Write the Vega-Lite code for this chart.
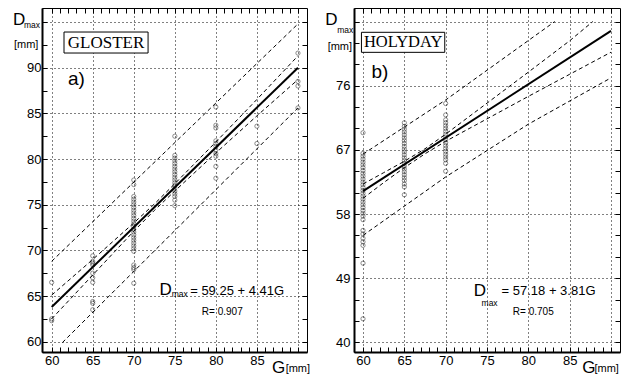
{
 "$schema": "https://vega.github.io/schema/vega-lite/v6.json",
 "autosize": {"type": "pad"},
 "padding": {"left": 12, "top": 7, "right": 0, "bottom": 0},
 "background": "white",
 "spacing": 47,
 "bounds": "flush",
 "config": {
  "view": {"stroke": "black", "strokeWidth": 1},
  "axis": {"labelFont": "Liberation Sans", "labelFontSize": 13, "labelColor": "black", "tickColor": "black", "tickSize": -5, "tickWidth": 1, "gridColor": "black", "gridDash": [1, 3], "gridWidth": 1, "labelOverlap": false, "labelFlush": false, "domainColor": "black"},
  "text": {"font": "Liberation Sans", "color": "black", "align": "left", "baseline": "alphabetic"}
 },
 "datasets": {
  "pts": [
   {"p":"a","G":60,"D":66.5},{"p":"a","G":60,"D":62.5},{"p":"a","G":60,"D":62.3},
   {"p":"a","G":65,"D":69.4},{"p":"a","G":65,"D":68.8},{"p":"a","G":65,"D":68.6},{"p":"a","G":65,"D":68.4},{"p":"a","G":65,"D":67.5},{"p":"a","G":65,"D":67.0},{"p":"a","G":65,"D":66.5},{"p":"a","G":65,"D":64.4},{"p":"a","G":65,"D":64.2},{"p":"a","G":65,"D":63.5},
   {"p":"a","G":70,"D":77.7},{"p":"a","G":70,"D":77.2},{"p":"a","G":70,"D":75.9},{"p":"a","G":70,"D":75.6},{"p":"a","G":70,"D":75.3},{"p":"a","G":70,"D":75.0},{"p":"a","G":70,"D":74.7},{"p":"a","G":70,"D":74.4},{"p":"a","G":70,"D":74.1},{"p":"a","G":70,"D":73.8},{"p":"a","G":70,"D":73.5},{"p":"a","G":70,"D":73.2},{"p":"a","G":70,"D":72.9},{"p":"a","G":70,"D":72.6},{"p":"a","G":70,"D":72.3},{"p":"a","G":70,"D":72.0},{"p":"a","G":70,"D":71.7},{"p":"a","G":70,"D":71.4},{"p":"a","G":70,"D":71.1},{"p":"a","G":70,"D":70.8},{"p":"a","G":70,"D":70.5},{"p":"a","G":70,"D":70.2},{"p":"a","G":70,"D":69.9},{"p":"a","G":70,"D":68.4},{"p":"a","G":70,"D":68.1},{"p":"a","G":70,"D":67.9},{"p":"a","G":70,"D":66.4},
   {"p":"a","G":75,"D":82.5},{"p":"a","G":75,"D":80.4},{"p":"a","G":75,"D":80.1},{"p":"a","G":75,"D":79.8},{"p":"a","G":75,"D":79.5},{"p":"a","G":75,"D":79.2},{"p":"a","G":75,"D":78.9},{"p":"a","G":75,"D":78.6},{"p":"a","G":75,"D":78.3},{"p":"a","G":75,"D":78.0},{"p":"a","G":75,"D":77.7},{"p":"a","G":75,"D":77.4},{"p":"a","G":75,"D":77.1},{"p":"a","G":75,"D":76.8},{"p":"a","G":75,"D":76.5},{"p":"a","G":75,"D":76.2},{"p":"a","G":75,"D":75.9},{"p":"a","G":75,"D":75.5},{"p":"a","G":75,"D":74.9},
   {"p":"a","G":80,"D":85.7},{"p":"a","G":80,"D":83.7},{"p":"a","G":80,"D":83.4},{"p":"a","G":80,"D":82.0},{"p":"a","G":80,"D":81.7},{"p":"a","G":80,"D":81.4},{"p":"a","G":80,"D":81.0},{"p":"a","G":80,"D":80.6},{"p":"a","G":80,"D":80.3},{"p":"a","G":80,"D":79.2},{"p":"a","G":80,"D":77.9},
   {"p":"a","G":85,"D":83.6},{"p":"a","G":85,"D":81.7},
   {"p":"a","G":90,"D":91.6},{"p":"a","G":90,"D":88.5},{"p":"a","G":90,"D":88.0},{"p":"a","G":90,"D":85.6},
   {"p":"b","G":60,"D":69.4},{"p":"b","G":60,"D":66.5},{"p":"b","G":60,"D":66.1},{"p":"b","G":60,"D":65.7},{"p":"b","G":60,"D":65.3},{"p":"b","G":60,"D":64.9},{"p":"b","G":60,"D":64.5},{"p":"b","G":60,"D":64.1},{"p":"b","G":60,"D":63.7},{"p":"b","G":60,"D":63.3},{"p":"b","G":60,"D":62.9},{"p":"b","G":60,"D":62.5},{"p":"b","G":60,"D":62.1},{"p":"b","G":60,"D":61.7},{"p":"b","G":60,"D":61.3},{"p":"b","G":60,"D":60.9},{"p":"b","G":60,"D":60.5},{"p":"b","G":60,"D":60.1},{"p":"b","G":60,"D":59.7},{"p":"b","G":60,"D":59.3},{"p":"b","G":60,"D":58.9},{"p":"b","G":60,"D":58.5},{"p":"b","G":60,"D":58.1},{"p":"b","G":60,"D":57.7},{"p":"b","G":60,"D":57.2},{"p":"b","G":60,"D":55.7},{"p":"b","G":60,"D":55.2},{"p":"b","G":60,"D":54.6},{"p":"b","G":60,"D":54.1},{"p":"b","G":60,"D":53.6},{"p":"b","G":60,"D":51.1},{"p":"b","G":60,"D":43.3},
   {"p":"b","G":65,"D":70.8},{"p":"b","G":65,"D":70.3},{"p":"b","G":65,"D":69.9},{"p":"b","G":65,"D":69.5},{"p":"b","G":65,"D":69.1},{"p":"b","G":65,"D":68.7},{"p":"b","G":65,"D":68.3},{"p":"b","G":65,"D":67.9},{"p":"b","G":65,"D":67.5},{"p":"b","G":65,"D":67.1},{"p":"b","G":65,"D":66.7},{"p":"b","G":65,"D":66.3},{"p":"b","G":65,"D":65.9},{"p":"b","G":65,"D":65.5},{"p":"b","G":65,"D":65.1},{"p":"b","G":65,"D":64.7},{"p":"b","G":65,"D":64.3},{"p":"b","G":65,"D":63.9},{"p":"b","G":65,"D":63.5},{"p":"b","G":65,"D":63.1},{"p":"b","G":65,"D":62.7},{"p":"b","G":65,"D":62.2},{"p":"b","G":65,"D":61.8},{"p":"b","G":65,"D":60.7},
   {"p":"b","G":70,"D":73.5},{"p":"b","G":70,"D":71.9},{"p":"b","G":70,"D":71.2},{"p":"b","G":70,"D":70.8},{"p":"b","G":70,"D":70.4},{"p":"b","G":70,"D":70.0},{"p":"b","G":70,"D":69.6},{"p":"b","G":70,"D":69.2},{"p":"b","G":70,"D":68.8},{"p":"b","G":70,"D":68.4},{"p":"b","G":70,"D":68.0},{"p":"b","G":70,"D":67.6},{"p":"b","G":70,"D":67.2},{"p":"b","G":70,"D":66.8},{"p":"b","G":70,"D":66.4},{"p":"b","G":70,"D":66.0},{"p":"b","G":70,"D":65.6},{"p":"b","G":70,"D":65.1},{"p":"b","G":70,"D":64.0}
  ],
  "lines": [
   {"p":"a","s":"af","k":"fit","G":60,"D":63.8},{"p":"a","s":"af","k":"fit","G":90,"D":90.0},
   {"p":"a","s":"aiu","k":"band","G":60,"D":65.1},{"p":"a","s":"aiu","k":"band","G":65,"D":69.0},{"p":"a","s":"aiu","k":"band","G":70,"D":73.0},{"p":"a","s":"aiu","k":"band","G":72.5,"D":75.07},{"p":"a","s":"aiu","k":"band","G":75,"D":77.3},{"p":"a","s":"aiu","k":"band","G":80,"D":81.87},{"p":"a","s":"aiu","k":"band","G":85,"D":86.53},{"p":"a","s":"aiu","k":"band","G":90,"D":91.3},
   {"p":"a","s":"ail","k":"band","G":60,"D":62.5},{"p":"a","s":"ail","k":"band","G":65,"D":67.3},{"p":"a","s":"ail","k":"band","G":70,"D":72.1},{"p":"a","s":"ail","k":"band","G":72.5,"D":74.37},{"p":"a","s":"ail","k":"band","G":75,"D":76.5},{"p":"a","s":"ail","k":"band","G":80,"D":80.67},{"p":"a","s":"ail","k":"band","G":85,"D":84.73},{"p":"a","s":"ail","k":"band","G":90,"D":88.7},
   {"p":"a","s":"aou","k":"band","G":60,"D":68.8},{"p":"a","s":"aou","k":"band","G":90,"D":94.8},
   {"p":"a","s":"aol","k":"band","G":61.3,"D":59.9},{"p":"a","s":"aol","k":"band","G":90,"D":85.6},
   {"p":"b","s":"bf","k":"fit","G":60,"D":61.2},{"p":"b","s":"bf","k":"fit","G":90,"D":83.7},
   {"p":"b","s":"biu","k":"band","G":60,"D":62.2},{"p":"b","s":"biu","k":"band","G":62.5,"D":63.8},{"p":"b","s":"biu","k":"band","G":65,"D":65.4},{"p":"b","s":"biu","k":"band","G":67.5,"D":67.15},{"p":"b","s":"biu","k":"band","G":70,"D":69.2},{"p":"b","s":"biu","k":"band","G":75,"D":73.55},{"p":"b","s":"biu","k":"band","G":80,"D":77.9},{"p":"b","s":"biu","k":"band","G":85,"D":82.3},{"p":"b","s":"biu","k":"band","G":87.8,"D":85.0},
   {"p":"b","s":"bil","k":"band","G":60,"D":60.2},{"p":"b","s":"bil","k":"band","G":62.5,"D":62.4},{"p":"b","s":"bil","k":"band","G":65,"D":64.5},{"p":"b","s":"bil","k":"band","G":67.5,"D":66.45},{"p":"b","s":"bil","k":"band","G":70,"D":68.2},{"p":"b","s":"bil","k":"band","G":75,"D":71.35},{"p":"b","s":"bil","k":"band","G":80,"D":74.5},{"p":"b","s":"bil","k":"band","G":85,"D":77.6},{"p":"b","s":"bil","k":"band","G":90,"D":80.7},
   {"p":"b","s":"bou","k":"band","G":60,"D":66.4},{"p":"b","s":"bou","k":"band","G":70,"D":74.0},{"p":"b","s":"bou","k":"band","G":83.2,"D":85.0},
   {"p":"b","s":"bol","k":"band","G":60,"D":55.0},{"p":"b","s":"bol","k":"band","G":70,"D":63.2},{"p":"b","s":"bol","k":"band","G":80,"D":70.6},{"p":"b","s":"bol","k":"band","G":90,"D":77.1}
  ],
  "txt": [
   {"p":"a","r":"big","G":55.28,"D":94.68,"t":"D"},
   {"p":"a","r":"sub","G":56.62,"D":94.31,"t":"max"},
   {"p":"a","r":"unit","G":55.4,"D":92.16,"t":"[mm]"},
   {"p":"a","r":"tag","G":61.99,"D":88.1,"t":"a)"},
   {"p":"a","r":"big","G":73.12,"D":65.11,"t":"D"},
   {"p":"a","r":"sub","G":74.62,"D":64.93,"t":"max"},
   {"p":"a","r":"eq","G":76.87,"D":65.11,"t":"= 59.25 + 4.41G"},
   {"p":"a","r":"r","G":78.29,"D":62.92,"t":"R= 0.907"},
   {"p":"a","r":"big","G":86.83,"D":56.57,"t":"G"},
   {"p":"a","r":"unit","G":88.5,"D":56.68,"t":"[mm]"},
   {"p":"b","r":"big","G":55.42,"D":84.57,"t":"D"},
   {"p":"b","r":"sub","G":56.88,"D":83.4,"t":"max"},
   {"p":"b","r":"unit","G":55.72,"D":81.06,"t":"[mm]"},
   {"p":"b","r":"tag","G":61.02,"D":77.12,"t":"b)"},
   {"p":"b","r":"big","G":73.41,"D":46.51,"t":"D"},
   {"p":"b","r":"sub","G":74.34,"D":45.1,"t":"max"},
   {"p":"b","r":"eq","G":76.76,"D":46.65,"t":"= 57.18 + 3.81G"},
   {"p":"b","r":"r","G":78.13,"D":43.84,"t":"R= 0.705"},
   {"p":"b","r":"big","G":86.52,"D":35.69,"t":"G"},
   {"p":"b","r":"unit","G":88.0,"D":35.83,"t":"[mm]"}
  ],
  "boxes": [
   {"p":"a","G1":61.5,"G2":71.74,"D1":93.91,"D2":91.61,"Gc":66.62,"Dc":92.76,"t":"GLOSTER"},
   {"p":"b","G1":59.81,"G2":69.89,"D1":83.49,"D2":80.68,"Gc":64.85,"Dc":82.08,"t":"HOLYDAY"}
  ]
 },
 "hconcat": [
  {
   "width": 265, "height": 344,
   "resolve": {"axis": {"x": "independent", "y": "independent"}},
   "encoding": {
    "x": {"field": "G", "type": "quantitative", "scale": {"domain": [58.82, 91.1], "nice": false, "zero": false}, "axis": null},
    "y": {"field": "D", "type": "quantitative", "scale": {"domain": [58.87, 96.54], "nice": false, "zero": false}, "axis": null}
   },
   "layer": [
    {
     "data": {"name": "pts"}, "transform": [{"filter": "datum.p === 'a'"}],
     "mark": {"type": "point", "shape": "circle", "filled": false, "size": 18, "color": "#333", "strokeWidth": 0.8},
     "encoding": {
      "x": {"field": "G", "type": "quantitative", "scale": {"domain": [58.82, 91.1], "nice": false, "zero": false},
            "axis": {"orient": "bottom", "title": null, "values": [60,61,62,63,64,65,66,67,68,69,70,71,72,73,74,75,76,77,78,79,80,81,82,83,84,85,86,87,88,89,90], "labelExpr": "datum.value % 5 === 0 && datum.value < 90 ? datum.label : ''", "grid": true, "gridOpacity": {"condition": {"test": "datum.value % 5 === 0", "value": 1}, "value": 0}, "labelPadding": 7, "domainWidth": 2}},
      "y": {"field": "D", "type": "quantitative", "scale": {"domain": [58.87, 96.54], "nice": false, "zero": false},
            "axis": {"orient": "left", "title": null, "values": [60,62.5,65,67.5,70,72.5,75,77.5,80,82.5,85,87.5,90,92.5,95], "labelExpr": "datum.value % 5 === 0 && datum.value < 95 ? datum.label : ''", "grid": true, "gridOpacity": {"condition": {"test": "datum.value % 5 === 0", "value": 1}, "value": 0}, "labelPadding": 6, "domainWidth": 2}}
     }
    },
    {
     "data": {"name": "pts"}, "transform": [{"filter": "datum.p === 'a'"}],
     "mark": {"type": "point", "opacity": 0},
     "encoding": {
      "x": {"field": "G", "type": "quantitative", "scale": {"domain": [58.82, 91.1], "nice": false, "zero": false},
            "axis": {"orient": "top", "title": null, "values": [60,61,62,63,64,65,66,67,68,69,70,71,72,73,74,75,76,77,78,79,80,81,82,83,84,85,86,87,88,89,90], "labels": false, "grid": false, "domain": false}},
      "y": {"field": "D", "type": "quantitative", "scale": {"domain": [58.87, 96.54], "nice": false, "zero": false},
            "axis": {"orient": "right", "title": null, "values": [60,62.5,65,67.5,70,72.5,75,77.5,80,82.5,85,87.5,90,92.5,95], "labels": false, "grid": false, "domain": false}}
     }
    },
    {
     "data": {"name": "lines"}, "transform": [{"filter": "datum.p === 'a' && datum.k === 'band'"}],
     "mark": {"type": "line", "color": "black", "strokeWidth": 1, "strokeDash": [4, 3]},
     "encoding": {"detail": {"field": "s"}}
    },
    {
     "data": {"name": "lines"}, "transform": [{"filter": "datum.p === 'a' && datum.k === 'fit'"}],
     "mark": {"type": "line", "color": "black", "strokeWidth": 2},
     "encoding": {}
    },
    {
     "data": {"name": "boxes"}, "transform": [{"filter": "datum.p === 'a'"}],
     "mark": {"type": "rect", "fill": "white", "stroke": "black", "strokeWidth": 1},
     "encoding": {
      "x": {"field": "G1", "type": "quantitative", "scale": {"domain": [58.82, 91.1], "nice": false, "zero": false}, "axis": null},
      "x2": {"field": "G2"},
      "y": {"field": "D1", "type": "quantitative", "scale": {"domain": [58.87, 96.54], "nice": false, "zero": false}, "axis": null},
      "y2": {"field": "D2"}
     }
    },
    {
     "data": {"name": "boxes"}, "transform": [{"filter": "datum.p === 'a'"}],
     "mark": {"type": "text", "font": "Liberation Serif", "fontSize": 17, "align": "center", "baseline": "middle"},
     "encoding": {
      "x": {"field": "Gc", "type": "quantitative", "scale": {"domain": [58.82, 91.1], "nice": false, "zero": false}, "axis": null},
      "y": {"field": "Dc", "type": "quantitative", "scale": {"domain": [58.87, 96.54], "nice": false, "zero": false}, "axis": null},
      "text": {"field": "t"}
     }
    },
    {"data": {"name": "txt"}, "transform": [{"filter": "datum.p === 'a' && datum.r === 'big'"}], "mark": {"type": "text", "fontSize": 17}, "encoding": {"text": {"field": "t"}}},
    {"data": {"name": "txt"}, "transform": [{"filter": "datum.p === 'a' && datum.r === 'sub'"}], "mark": {"type": "text", "fontSize": 8.5}, "encoding": {"text": {"field": "t"}}},
    {"data": {"name": "txt"}, "transform": [{"filter": "datum.p === 'a' && datum.r === 'unit'"}], "mark": {"type": "text", "fontSize": 11}, "encoding": {"text": {"field": "t"}}},
    {"data": {"name": "txt"}, "transform": [{"filter": "datum.p === 'a' && datum.r === 'tag'"}], "mark": {"type": "text", "fontSize": 19}, "encoding": {"text": {"field": "t"}}},
    {"data": {"name": "txt"}, "transform": [{"filter": "datum.p === 'a' && datum.r === 'eq'"}], "mark": {"type": "text", "fontSize": 13}, "encoding": {"text": {"field": "t"}}},
    {"data": {"name": "txt"}, "transform": [{"filter": "datum.p === 'a' && datum.r === 'r'"}], "mark": {"type": "text", "fontSize": 10}, "encoding": {"text": {"field": "t"}}}
   ]
  },
  {
   "width": 266, "height": 344,
   "resolve": {"axis": {"x": "independent", "y": "independent"}},
   "encoding": {
    "x": {"field": "G", "type": "quantitative", "scale": {"domain": [58.91, 91.09], "nice": false, "zero": false}, "axis": null},
    "y": {"field": "D", "type": "quantitative", "scale": {"domain": [38.64, 86.9], "nice": false, "zero": false}, "axis": null}
   },
   "layer": [
    {
     "data": {"name": "pts"}, "transform": [{"filter": "datum.p === 'b'"}],
     "mark": {"type": "point", "shape": "circle", "filled": false, "size": 18, "color": "#333", "strokeWidth": 0.8},
     "encoding": {
      "x": {"field": "G", "type": "quantitative", "scale": {"domain": [58.91, 91.09], "nice": false, "zero": false},
            "axis": {"orient": "bottom", "title": null, "values": [60,61,62,63,64,65,66,67,68,69,70,71,72,73,74,75,76,77,78,79,80,81,82,83,84,85,86,87,88,89,90], "labelExpr": "datum.value % 5 === 0 && datum.value < 90 ? datum.label : ''", "grid": true, "gridOpacity": {"condition": {"test": "datum.value % 5 === 0", "value": 1}, "value": 0}, "labelPadding": 7, "domainWidth": 2}},
      "y": {"field": "D", "type": "quantitative", "scale": {"domain": [38.64, 86.9], "nice": false, "zero": false},
            "axis": {"orient": "left", "title": null, "values": [40,43,46,49,52,55,58,61,64,67,70,73,76,79,82,85], "labelExpr": "(datum.value - 40) % 9 === 0 && datum.value < 85 ? datum.label : ''", "grid": true, "gridOpacity": {"condition": {"test": "(datum.value - 40) % 9 === 0", "value": 1}, "value": 0}, "labelPadding": 9, "domainWidth": 2}}
     }
    },
    {
     "data": {"name": "pts"}, "transform": [{"filter": "datum.p === 'b'"}],
     "mark": {"type": "point", "opacity": 0},
     "encoding": {
      "x": {"field": "G", "type": "quantitative", "scale": {"domain": [58.91, 91.09], "nice": false, "zero": false},
            "axis": {"orient": "top", "title": null, "values": [60,61,62,63,64,65,66,67,68,69,70,71,72,73,74,75,76,77,78,79,80,81,82,83,84,85,86,87,88,89,90], "labels": false, "grid": false, "domain": false}},
      "y": {"field": "D", "type": "quantitative", "scale": {"domain": [38.64, 86.9], "nice": false, "zero": false},
            "axis": {"orient": "right", "title": null, "values": [40,43,46,49,52,55,58,61,64,67,70,73,76,79,82,85], "labels": false, "grid": false, "domain": false}}
     }
    },
    {
     "data": {"name": "lines"}, "transform": [{"filter": "datum.p === 'b' && datum.k === 'band'"}],
     "mark": {"type": "line", "color": "black", "strokeWidth": 1, "strokeDash": [4, 3]},
     "encoding": {"detail": {"field": "s"}}
    },
    {
     "data": {"name": "lines"}, "transform": [{"filter": "datum.p === 'b' && datum.k === 'fit'"}],
     "mark": {"type": "line", "color": "black", "strokeWidth": 2},
     "encoding": {}
    },
    {
     "data": {"name": "boxes"}, "transform": [{"filter": "datum.p === 'b'"}],
     "mark": {"type": "rect", "fill": "white", "stroke": "black", "strokeWidth": 1},
     "encoding": {
      "x": {"field": "G1", "type": "quantitative", "scale": {"domain": [58.91, 91.09], "nice": false, "zero": false}, "axis": null},
      "x2": {"field": "G2"},
      "y": {"field": "D1", "type": "quantitative", "scale": {"domain": [38.64, 86.9], "nice": false, "zero": false}, "axis": null},
      "y2": {"field": "D2"}
     }
    },
    {
     "data": {"name": "boxes"}, "transform": [{"filter": "datum.p === 'b'"}],
     "mark": {"type": "text", "font": "Liberation Serif", "fontSize": 16.5, "align": "center", "baseline": "middle"},
     "encoding": {
      "x": {"field": "Gc", "type": "quantitative", "scale": {"domain": [58.91, 91.09], "nice": false, "zero": false}, "axis": null},
      "y": {"field": "Dc", "type": "quantitative", "scale": {"domain": [38.64, 86.9], "nice": false, "zero": false}, "axis": null},
      "text": {"field": "t"}
     }
    },
    {"data": {"name": "txt"}, "transform": [{"filter": "datum.p === 'b' && datum.r === 'big'"}], "mark": {"type": "text", "fontSize": 17}, "encoding": {"text": {"field": "t"}}},
    {"data": {"name": "txt"}, "transform": [{"filter": "datum.p === 'b' && datum.r === 'sub'"}], "mark": {"type": "text", "fontSize": 8.5}, "encoding": {"text": {"field": "t"}}},
    {"data": {"name": "txt"}, "transform": [{"filter": "datum.p === 'b' && datum.r === 'unit'"}], "mark": {"type": "text", "fontSize": 11}, "encoding": {"text": {"field": "t"}}},
    {"data": {"name": "txt"}, "transform": [{"filter": "datum.p === 'b' && datum.r === 'tag'"}], "mark": {"type": "text", "fontSize": 19}, "encoding": {"text": {"field": "t"}}},
    {"data": {"name": "txt"}, "transform": [{"filter": "datum.p === 'b' && datum.r === 'eq'"}], "mark": {"type": "text", "fontSize": 13}, "encoding": {"text": {"field": "t"}}},
    {"data": {"name": "txt"}, "transform": [{"filter": "datum.p === 'b' && datum.r === 'r'"}], "mark": {"type": "text", "fontSize": 10}, "encoding": {"text": {"field": "t"}}}
   ]
  }
 ]
}
